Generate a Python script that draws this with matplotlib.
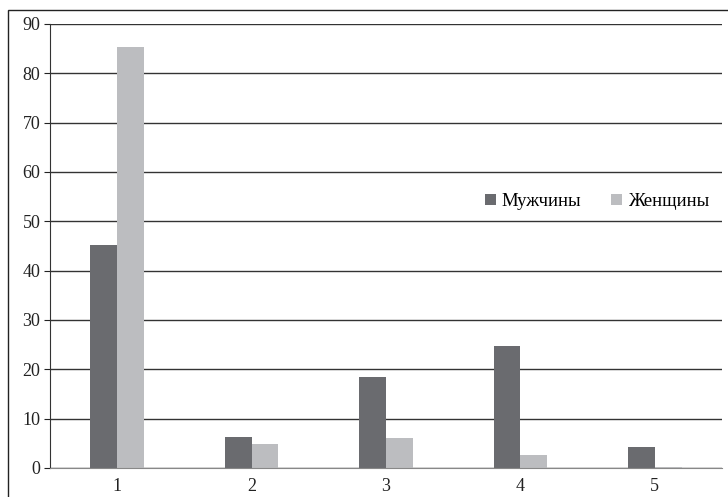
import matplotlib.pyplot as plt
import matplotlib.patches as mpatches
import numpy as np

# Datos
categorias = ['1', '2', '3', '4', '5']
muzhchiny = [45.2, 6.3, 18.4, 24.7, 4.3]
zhenshchiny = [85.3, 4.9, 6.1, 2.6, 0.2]

color_m = '#6a6b6f'
color_z = '#bcbdc0'

plt.rcParams['font.family'] = ['Liberation Serif', 'DejaVu Serif']

fig = plt.figure(figsize=(7.28, 4.97), dpi=100)
ax = fig.add_axes([50 / 728, 1 - 468 / 497, 672 / 728, 444 / 497])

# marco exterior de la figura (cortado a la derecha y abajo)
fig.patches.append(mpatches.Rectangle((8 / 728, -0.05), 1.0, 1 - 10 / 497 + 0.05,
                                      transform=fig.transFigure, fill=False,
                                      edgecolor='#222222', linewidth=1.0))

x = np.arange(len(categorias))
w = 0.2
ax.bar(x - w / 2, muzhchiny, width=w, color=color_m, label='Мужчины', zorder=3)
ax.bar(x + w / 2, zhenshchiny, width=w, color=color_z, label='Женщины', zorder=3)

ax.set_xlim(-0.5, 4.5)
ax.set_ylim(0, 90)
ax.set_yticks(range(0, 91, 10))
ax.set_xticks(x)
ax.set_xticklabels(categorias)

ax.yaxis.grid(True, color='#333333', linewidth=1.0, zorder=0)
for lado in ['top', 'right']:
    ax.spines[lado].set_visible(False)
ax.spines['left'].set_color('#333333')
ax.spines['bottom'].set_color('#888888')
ax.spines['bottom'].set_zorder(4)
ax.tick_params(axis='x', length=0, labelsize=13, pad=7, colors='#222222')
ax.tick_params(axis='y', length=4, labelsize=13, pad=3, colors='#222222')

ax.legend(loc='center', bbox_to_anchor=(0.814, 0.6), ncol=2, frameon=False,
          fontsize=13.5, handlelength=0.6, handleheight=0.6, handletextpad=0.3,
          columnspacing=1.6)

fig.savefig('out.png', dpi=100)
